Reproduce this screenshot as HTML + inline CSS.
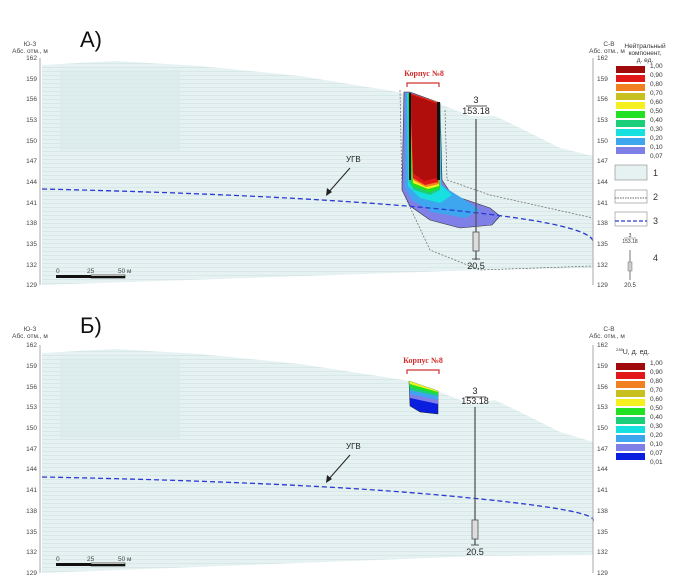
<!DOCTYPE html>
<html><head><meta charset="utf-8"><style>
body{margin:0;background:#fff;}
svg{display:block;font-family:"Liberation Sans",sans-serif;}
</style></head><body>
<svg width="676" height="588" viewBox="0 0 676 588">
<defs>
<pattern id="ln" width="6" height="4" patternUnits="userSpaceOnUse">
<rect width="6" height="4" fill="#e6f1f1"/><line x1="0" y1="3.5" x2="6" y2="3.5" stroke="#cfe3e3" stroke-width="0.6"/>
</pattern>
</defs>
<!-- ===== Panel A ===== -->
<text x="80" y="47" font-size="22" fill="#111">A)</text>
<text x="30" y="46" font-size="6.5" fill="#444" text-anchor="middle">Ю-З</text>
<text x="30" y="53" font-size="6.5" fill="#444" text-anchor="middle">Абс. отм., м</text>
<text x="609" y="46" font-size="6.5" fill="#444" text-anchor="middle">С-В</text>
<text x="607" y="53" font-size="6.5" fill="#444" text-anchor="middle">Абс. отм., м</text>
<path d="M42 65 L115 61 L200 66 L300 76 L410 94 L440 104 L470 116 L495 116 L520 128 L560 148 L593 156 L593 268 L480 270 L42 285 Z" fill="url(#ln)"/>
<rect x="60" y="70" width="120" height="80" fill="#d8eaea" opacity="0.6"/>
<!-- plume A -->
<path d="M404 92 L410 92 L440 103 L442 180 L452 195 L490 208 L500 216 L492 225 L460 228 L430 220 L410 206 L402 190 Z" fill="#7f7fe8" stroke="#333" stroke-width="0.6"/>
<path d="M406 93 L440 103 L441 185 L465 200 L480 210 L465 218 L432 212 L412 200 L405 188 Z" fill="#3ea6ee"/>
<path d="M407 93 L440 103 L441 185 L452 195 L440 203 L420 198 L408 186 Z" fill="#17e0e0"/>
<path d="M408 93 L440 103 L440 190 L430 195 L414 190 L409 182 Z" fill="#1bcf7a"/>
<path d="M408 93 L440 103 L440 188 L430 192 L412 186 Z" fill="#22e022"/>
<path d="M409 93 L440 103 L439 186 L428 189 L413 183 Z" fill="#f7f020"/>
<path d="M409 93 L440 103 L439 184 L426 187 L413 180 Z" fill="#f08020"/>
<path d="M410 93 L439 103 L438 182 L425 185 L413 178 Z" fill="#e21818"/>
<path d="M411 95 L438 104 L437 178 L424 181 L413 173 Z" fill="#b00d0d"/>
<path d="M409 93 L411 93 L411 180 L409 180 Z M437 102 L440 102 L440 180 L437 180 Z" fill="#111"/>
<path d="M400 90 L402 190 L430 250 L480 270 L593 266" fill="none" stroke="#666" stroke-width="0.7" stroke-dasharray="2,1.5"/>
<path d="M445 110 L447 180 L490 195 L593 218" fill="none" stroke="#666" stroke-width="0.7" stroke-dasharray="2,1.5"/>
<text x="424" y="76" font-size="8" font-weight="bold" fill="#d03030" text-anchor="middle" font-family="Liberation Serif,serif">Корпус №8</text>
<path d="M407 87 L407 83 L439 83 L439 87" fill="none" stroke="#d03030" stroke-width="1.2"/>
<!-- GW -->
<path d="M42 189 Q300 195 450 210 T593 244" fill="none" stroke="#2a3ad0" stroke-width="1.3" stroke-dasharray="5,3"/>
<text x="346" y="162" font-size="8" fill="#222">УГВ</text>
<line x1="350" y1="168" x2="328" y2="193" stroke="#222" stroke-width="1"/>
<path d="M326 196 L327 188 L332 192 Z" fill="#222"/>
<!-- well A -->
<text x="476" y="103" font-size="9" fill="#222" text-anchor="middle">3</text>
<line x1="466" y1="106" x2="487" y2="106" stroke="#222" stroke-width="0.7"/>
<text x="476" y="114" font-size="9" fill="#222" text-anchor="middle">153.18</text>
<line x1="476" y1="119" x2="476" y2="260" stroke="#555" stroke-width="1.3"/>
<rect x="473" y="232" width="6" height="19" fill="#ddd" stroke="#555" stroke-width="0.8"/>
<line x1="472" y1="259" x2="480" y2="259" stroke="#555"/>
<text x="476" y="269" font-size="9" fill="#222" text-anchor="middle">20.5</text>
<!-- scale -->
<text x="56" y="273" font-size="6.5" fill="#444">0</text><text x="87" y="273" font-size="6.5" fill="#444">25</text><text x="118" y="273" font-size="6.5" fill="#444">50 м</text>
<rect x="56" y="275" width="35" height="3" fill="#111"/><rect x="91" y="275" width="34" height="3" fill="#fff" stroke="#111" stroke-width="0.6"/>
<rect x="91" y="276" width="34" height="2" fill="#111"/>
<!-- axes A -->
<g font-size="6.5" fill="#444" stroke="none">
<line x1="40" y1="58" x2="40" y2="285" stroke="#aaa"/>
<line x1="593" y1="58" x2="593" y2="285" stroke="#aaa"/>
<text x="37" y="60" text-anchor="end">162</text><text x="37" y="81" text-anchor="end">159</text><text x="37" y="101" text-anchor="end">156</text><text x="37" y="122" text-anchor="end">153</text><text x="37" y="143" text-anchor="end">150</text><text x="37" y="163" text-anchor="end">147</text><text x="37" y="184" text-anchor="end">144</text><text x="37" y="205" text-anchor="end">141</text><text x="37" y="225" text-anchor="end">138</text><text x="37" y="246" text-anchor="end">135</text><text x="37" y="267" text-anchor="end">132</text><text x="37" y="287" text-anchor="end">129</text>
<text x="597" y="60">162</text><text x="597" y="81">159</text><text x="597" y="101">156</text><text x="597" y="122">153</text><text x="597" y="143">150</text><text x="597" y="163">147</text><text x="597" y="184">144</text><text x="597" y="205">141</text><text x="597" y="225">138</text><text x="597" y="246">135</text><text x="597" y="267">132</text><text x="597" y="287">129</text>
</g>
<!-- legend A -->
<g font-size="6.5" fill="#333">
<text x="645" y="48" text-anchor="middle">Нейтральный</text><text x="645" y="55" text-anchor="middle">компонент,</text><text x="645" y="62" text-anchor="middle">д. ед.</text>
<rect x="616" y="66" width="29" height="7" fill="#a00a0a"/><rect x="616" y="75" width="29" height="7" fill="#e21818"/><rect x="616" y="84" width="29" height="7" fill="#f08020"/><rect x="616" y="93" width="29" height="7" fill="#c8c020"/><rect x="616" y="102" width="29" height="7" fill="#f7f020"/><rect x="616" y="111" width="29" height="7" fill="#22e022"/><rect x="616" y="120" width="29" height="7" fill="#1bcf7a"/><rect x="616" y="129" width="29" height="7" fill="#17e0e0"/><rect x="616" y="138" width="29" height="7" fill="#3ea6ee"/><rect x="616" y="147" width="29" height="7" fill="#7f7fe8"/>
<text x="650" y="68">1,00</text><text x="650" y="77">0,90</text><text x="650" y="86">0,80</text><text x="650" y="95">0,70</text><text x="650" y="104">0,60</text><text x="650" y="113">0,50</text><text x="650" y="122">0,40</text><text x="650" y="131">0,30</text><text x="650" y="140">0,20</text><text x="650" y="149">0,10</text><text x="650" y="158">0,07</text>
<rect x="615" y="165" width="32" height="15" fill="#e6f1f1" stroke="#888" stroke-width="0.6"/><text x="653" y="176" font-size="9">1</text>
<rect x="615" y="190" width="32" height="13" fill="#fff" stroke="#888" stroke-width="0.6"/><line x1="615" y1="198" x2="647" y2="198" stroke="#666" stroke-dasharray="1.5,1"/><text x="653" y="200" font-size="9">2</text>
<rect x="615" y="212" width="32" height="14" fill="#fff" stroke="#888" stroke-width="0.6"/><line x1="615" y1="221" x2="647" y2="221" stroke="#2a3ad0" stroke-width="1.2" stroke-dasharray="4,2"/><text x="653" y="224" font-size="9">3</text>
<text x="630" y="237" font-size="5" text-anchor="middle">3</text><line x1="624" y1="238" x2="636" y2="238" stroke="#333" stroke-width="0.4"/><text x="630" y="243" font-size="5" text-anchor="middle">153.18</text>
<line x1="630" y1="250" x2="630" y2="280" stroke="#777"/><rect x="628" y="262" width="4" height="9" fill="#ccc" stroke="#777" stroke-width="0.5"/>
<text x="630" y="287" font-size="6" text-anchor="middle">20.5</text><text x="653" y="261" font-size="9">4</text>
</g>

<!-- ===== Panel B ===== -->
<text x="80" y="333" font-size="22" fill="#111">Б)</text>
<text x="30" y="331" font-size="6.5" fill="#444" text-anchor="middle">Ю-З</text>
<text x="30" y="338" font-size="6.5" fill="#444" text-anchor="middle">Абс. отм., м</text>
<text x="609" y="331" font-size="6.5" fill="#444" text-anchor="middle">С-В</text>
<text x="607" y="338" font-size="6.5" fill="#444" text-anchor="middle">Абс. отм., м</text>
<path d="M42 353 L115 349 L200 354 L300 364 L410 381 L440 392 L470 404 L495 400 L520 412 L560 432 L593 442 L593 555 L480 556 L42 573 Z" fill="url(#ln)"/>
<rect x="60" y="358" width="120" height="80" fill="#d8eaea" opacity="0.6"/>
<path d="M409 381 L438 391 L438 414 L420 412 L410 406 Z" fill="#0a1ee0" stroke="#222" stroke-width="0.5"/>
<path d="M409 381 L438 391 L438 404 L410 398 Z" fill="#7f7fe8"/>
<path d="M409 381 L438 391 L438 400 L410 394 Z" fill="#3ea6ee"/>
<path d="M409 381 L438 391 L438 396 L410 390 Z" fill="#1bcf7a"/>
<path d="M409 381 L438 391 L438 394 L410 387 Z" fill="#22e022"/>
<path d="M409 381 L438 391 L438 392 L410 384 Z" fill="#f7f020"/>
<text x="423" y="363" font-size="8" font-weight="bold" fill="#d03030" text-anchor="middle" font-family="Liberation Serif,serif">Корпус №8</text>
<path d="M407 374 L407 370 L439 370 L439 374" fill="none" stroke="#d03030" stroke-width="1.2"/>
<path d="M42 477 Q300 482 450 496 T593 521" fill="none" stroke="#2a3ad0" stroke-width="1.3" stroke-dasharray="5,3"/>
<text x="346" y="449" font-size="8" fill="#222">УГВ</text>
<line x1="350" y1="455" x2="328" y2="480" stroke="#222" stroke-width="1"/>
<path d="M326 483 L327 475 L332 479 Z" fill="#222"/>
<text x="475" y="394" font-size="9" fill="#222" text-anchor="middle">3</text>
<line x1="465" y1="397" x2="486" y2="397" stroke="#222" stroke-width="0.7"/>
<text x="475" y="404" font-size="9" fill="#222" text-anchor="middle">153.18</text>
<line x1="475" y1="407" x2="475" y2="545" stroke="#555" stroke-width="1.3"/>
<rect x="472" y="520" width="6" height="19" fill="#ddd" stroke="#555" stroke-width="0.8"/>
<line x1="471" y1="545" x2="479" y2="545" stroke="#555"/>
<text x="475" y="555" font-size="9" fill="#222" text-anchor="middle">20.5</text>
<text x="56" y="561" font-size="6.5" fill="#444">0</text><text x="87" y="561" font-size="6.5" fill="#444">25</text><text x="118" y="561" font-size="6.5" fill="#444">50 м</text>
<rect x="56" y="563" width="35" height="3" fill="#111"/><rect x="91" y="563" width="34" height="3" fill="#fff" stroke="#111" stroke-width="0.6"/>
<rect x="91" y="564" width="34" height="2" fill="#111"/>
<g font-size="6.5" fill="#444">
<line x1="40" y1="345" x2="40" y2="573" stroke="#aaa"/>
<line x1="593" y1="345" x2="593" y2="573" stroke="#aaa"/>
<text x="37" y="347" text-anchor="end">162</text><text x="37" y="368" text-anchor="end">159</text><text x="37" y="389" text-anchor="end">156</text><text x="37" y="409" text-anchor="end">153</text><text x="37" y="430" text-anchor="end">150</text><text x="37" y="451" text-anchor="end">147</text><text x="37" y="471" text-anchor="end">144</text><text x="37" y="492" text-anchor="end">141</text><text x="37" y="513" text-anchor="end">138</text><text x="37" y="534" text-anchor="end">135</text><text x="37" y="554" text-anchor="end">132</text><text x="37" y="575" text-anchor="end">129</text>
<text x="597" y="347">162</text><text x="597" y="368">159</text><text x="597" y="389">156</text><text x="597" y="409">153</text><text x="597" y="430">150</text><text x="597" y="451">147</text><text x="597" y="471">144</text><text x="597" y="492">141</text><text x="597" y="513">138</text><text x="597" y="534">135</text><text x="597" y="554">132</text><text x="597" y="575">129</text>
</g>
<g font-size="6.5" fill="#333">
<text x="616" y="354" font-size="7"><tspan font-size="4" dy="-3">238</tspan><tspan dy="3">U, д. ед.</tspan></text>
<rect x="616" y="363" width="29" height="7" fill="#a00a0a"/><rect x="616" y="372" width="29" height="7" fill="#e21818"/><rect x="616" y="381" width="29" height="7" fill="#f08020"/><rect x="616" y="390" width="29" height="7" fill="#c8c020"/><rect x="616" y="399" width="29" height="7" fill="#f7f020"/><rect x="616" y="408" width="29" height="7" fill="#22e022"/><rect x="616" y="417" width="29" height="7" fill="#1bcf7a"/><rect x="616" y="426" width="29" height="7" fill="#17e0e0"/><rect x="616" y="435" width="29" height="7" fill="#3ea6ee"/><rect x="616" y="444" width="29" height="7" fill="#7f7fe8"/><rect x="616" y="453" width="29" height="7" fill="#0a1ee0"/>
<text x="650" y="365">1,00</text><text x="650" y="374">0,90</text><text x="650" y="383">0,80</text><text x="650" y="392">0,70</text><text x="650" y="401">0,60</text><text x="650" y="410">0,50</text><text x="650" y="419">0,40</text><text x="650" y="428">0,30</text><text x="650" y="437">0,20</text><text x="650" y="446">0,10</text><text x="650" y="455">0,07</text><text x="650" y="464">0,01</text>
</g>
</svg>
</body></html>
